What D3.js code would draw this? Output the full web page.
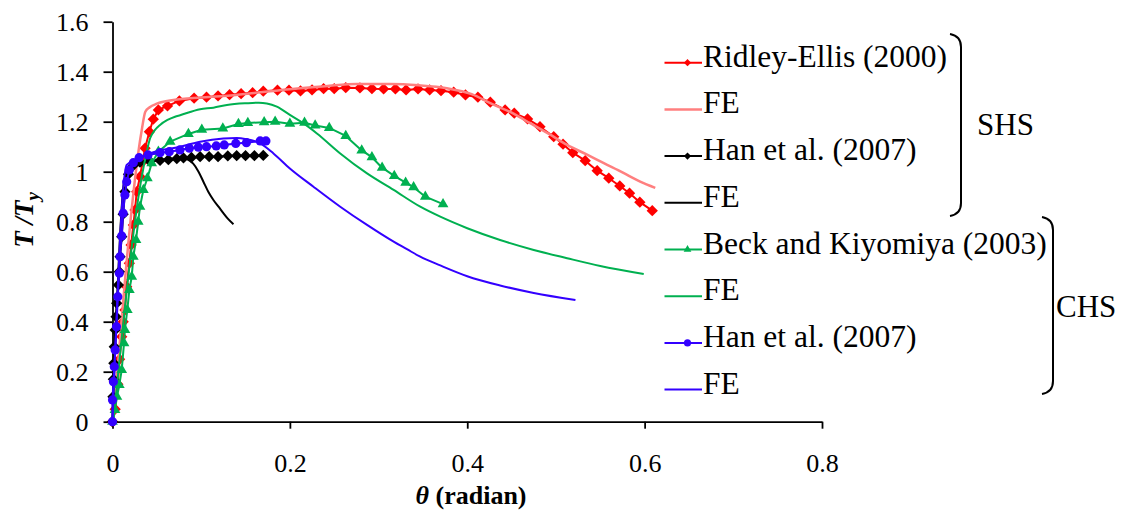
<!DOCTYPE html>
<html>
<head>
<meta charset="utf-8">
<script src="https://cdn.jsdelivr.net/npm/d3@7"></script>
</head>
<body style="margin:0; background:#fff">
<div id="chart"></div>
<script>
// Ridley-Ellis (2000), SHS test
const ridleyX = [0, 0.003, 0.006, 0.008, 0.0104, 0.012, 0.014, 0.016, 0.019, 0.021, 0.0235, 0.0254, 0.0273, 0.031, 0.034, 0.0367, 0.0416, 0.046, 0.0517, 0.062, 0.0754, 0.092, 0.106, 0.119, 0.132, 0.145, 0.158, 0.170, 0.186, 0.199, 0.212, 0.225, 0.238, 0.250, 0.263, 0.279, 0.2925, 0.3057, 0.319, 0.331, 0.3445, 0.3576, 0.3704, 0.3847, 0.398, 0.412, 0.426, 0.4427, 0.453, 0.468, 0.482, 0.4975, 0.508, 0.519, 0.533, 0.5465, 0.5596, 0.572, 0.583, 0.5946, 0.6086];
const ridleyY = [0, 0.05, 0.15, 0.25, 0.34, 0.40, 0.447, 0.54, 0.634, 0.707, 0.787, 0.847, 0.92, 0.98, 1.04, 1.094, 1.16, 1.21, 1.247, 1.263, 1.283, 1.294, 1.298, 1.303, 1.308, 1.312, 1.316, 1.322, 1.326, 1.326, 1.323, 1.327, 1.332, 1.332, 1.336, 1.335, 1.332, 1.331, 1.331, 1.327, 1.331, 1.327, 1.324, 1.318, 1.307, 1.298, 1.278, 1.247, 1.234, 1.211, 1.18, 1.14, 1.11, 1.076, 1.044, 1.004, 0.974, 0.943, 0.914, 0.878, 0.844];

// FE, SHS (Ridley-Ellis)
const feRidleyX = [0.001, 0.033, 0.037, 0.042, 0.05, 0.0686, 0.1, 0.125, 0.16, 0.2, 0.24, 0.2756, 0.313, 0.345, 0.377, 0.405, 0.426, 0.45, 0.471, 0.4926, 0.5126, 0.534, 0.554, 0.575, 0.595, 0.612];
const feRidleyY = [0, 1.167, 1.24, 1.258, 1.272, 1.287, 1.297, 1.303, 1.315, 1.33, 1.342, 1.351, 1.351, 1.346, 1.334, 1.31, 1.274, 1.236, 1.194, 1.15, 1.107, 1.07, 1.034, 0.997, 0.96, 0.935];

// Han et al. (2007), SHS test
const hanSX = [0, 0.0005, 0.001, 0.0015, 0.002, 0.003, 0.004, 0.0047, 0.0066, 0.0077, 0.0085, 0.0104, 0.012, 0.014, 0.018, 0.0235, 0.031, 0.042, 0.0536, 0.063, 0.0725, 0.08, 0.089, 0.0988, 0.109, 0.119, 0.13, 0.14, 0.15, 0.16, 0.17];
const hanSY = [0, 0.1, 0.17, 0.234, 0.3, 0.367, 0.42, 0.474, 0.547, 0.6, 0.66, 0.74, 0.83, 0.92, 0.99, 1.025, 1.038, 1.042, 1.045, 1.048, 1.052, 1.055, 1.057, 1.06, 1.06, 1.06, 1.063, 1.064, 1.064, 1.064, 1.065];

// FE, SHS (Han)
const feHanSX = [0, 0.013, 0.018, 0.025, 0.04, 0.06, 0.075, 0.082, 0.087, 0.091, 0.097, 0.1025, 0.108, 0.1138, 0.12, 0.125, 0.13, 0.1364];
const feHanSY = [0, 0.96, 1.01, 1.03, 1.042, 1.05, 1.054, 1.052, 1.044, 1.032, 1.0, 0.96, 0.92, 0.887, 0.858, 0.834, 0.812, 0.79];

// Beck and Kiyomiya (2003), CHS test
const beckX = [0, 0.0028, 0.005, 0.0077, 0.0104, 0.013, 0.014, 0.0167, 0.019, 0.0217, 0.0235, 0.0265, 0.029, 0.031, 0.0348, 0.0393, 0.0442, 0.0517, 0.065, 0.0856, 0.1007, 0.1244, 0.142, 0.1526, 0.171, 0.1834, 0.2, 0.2165, 0.2285, 0.2444, 0.263, 0.281, 0.2925, 0.304, 0.3177, 0.3305, 0.3395, 0.3527, 0.3727];
const beckY = [0, 0.047, 0.1, 0.147, 0.207, 0.314, 0.367, 0.447, 0.527, 0.58, 0.66, 0.727, 0.8, 0.86, 0.927, 0.974, 1.034, 1.08, 1.12, 1.151, 1.168, 1.173, 1.191, 1.195, 1.198, 1.2, 1.192, 1.196, 1.185, 1.175, 1.143, 1.085, 1.058, 1.016, 0.983, 0.956, 0.938, 0.9, 0.87];

// FE, CHS (Beck)
const feBeckX = [0.001, 0.033, 0.038, 0.0424, 0.0475, 0.0536, 0.062, 0.0705, 0.0762, 0.0988, 0.1138, 0.129, 0.1515, 0.165, 0.174, 0.1853, 0.2, 0.215, 0.2305, 0.2568, 0.287, 0.317, 0.347, 0.3696, 0.4, 0.437, 0.475, 0.5126, 0.55, 0.599];
const feBeckY = [0, 0.98, 1.07, 1.134, 1.165, 1.187, 1.207, 1.22, 1.226, 1.25, 1.256, 1.267, 1.274, 1.276, 1.273, 1.26, 1.227, 1.194, 1.153, 1.073, 0.993, 0.927, 0.86, 0.82, 0.774, 0.727, 0.687, 0.654, 0.623, 0.591];

// Han et al. (2007), CHS test
const hanCX = [0, 0, 0.001, 0.002, 0.003, 0.0045, 0.006, 0.0077, 0.0085, 0.0104, 0.012, 0.014, 0.016, 0.019, 0.0235, 0.030, 0.040, 0.0536, 0.064, 0.076, 0.0867, 0.0968, 0.106, 0.117, 0.126, 0.139, 0.151, 0.1665, 0.173];
const hanCY = [0, 0.087, 0.16, 0.22, 0.287, 0.38, 0.5, 0.594, 0.66, 0.743, 0.834, 0.907, 0.96, 1.007, 1.036, 1.056, 1.067, 1.076, 1.08, 1.087, 1.094, 1.098, 1.1, 1.103, 1.107, 1.113, 1.116, 1.123, 1.123];

// FE, CHS (Han)
const feHanCX = [0, 0.016, 0.025, 0.042, 0.076, 0.0988, 0.125, 0.14, 0.151, 0.1665, 0.1815, 0.2, 0.2266, 0.2568, 0.287, 0.317, 0.332, 0.347, 0.3696, 0.4, 0.437, 0.475, 0.522];
const feHanCY = [0, 1.027, 1.045, 1.073, 1.1, 1.12, 1.133, 1.135, 1.13, 1.113, 1.073, 1.013, 0.94, 0.86, 0.787, 0.72, 0.69, 0.66, 0.625, 0.582, 0.545, 0.515, 0.487];

// Legend / axis text
const legendLabels = ["Ridley-Ellis (2000)", "FE", "Han et al. (2007)", "FE", "Beck and Kiyomiya (2003)", "FE", "Han et al. (2007)", "FE"];
const groupLabels = ["SHS", "CHS"];
const xTicks = [0, 0.2, 0.4, 0.6, 0.8];
const yTicks = [0, 0.2, 0.4, 0.6, 0.8, 1, 1.2, 1.4, 1.6];

const serif = "'Liberation Serif', 'Times New Roman', serif";

const zip = (xs, ys) => xs.map((x, i) => ({ x: x, y: ys[i] }));

// series in drawing order
const series = [
    { name: legendLabels[0], data: zip(ridleyX, ridleyY), color: "#ff0000", width: 2, marker: "diamond" },
    { name: legendLabels[1], data: zip(feRidleyX, feRidleyY), color: "#ff7f7f", width: 2.5, marker: null },
    { name: legendLabels[2], data: zip(hanSX, hanSY), color: "#000000", width: 2, marker: "diamond" },
    { name: legendLabels[3], data: zip(feHanSX, feHanSY), color: "#000000", width: 2, marker: null },
    { name: legendLabels[4], data: zip(beckX, beckY), color: "#00b050", width: 2, marker: "triangle" },
    { name: legendLabels[5], data: zip(feBeckX, feBeckY), color: "#00b050", width: 2, marker: null },
    { name: legendLabels[6], data: zip(hanCX, hanCY), color: "#3300ff", width: 2, marker: "circle" },
    { name: legendLabels[7], data: zip(feHanCX, feHanCY), color: "#3300ff", width: 2, marker: null },
];

const W = 1130, H = 516;

const svg = d3.select("#chart")
    .append("svg")
    .attr("width", W)
    .attr("height", H)
    .style("display", "block")
    .style("font-family", serif);

svg.append("rect").attr("width", W).attr("height", H).attr("fill", "#fff");

// scales
const x = d3.scaleLinear().domain([0, 0.8]).range([112.5, 822]);
const y = d3.scaleLinear().domain([0, 1.6]).range([421.7, 21.7]);

// axes
const xAxis = d3.axisBottom(x)
    .tickValues(xTicks)
    .tickFormat((d) => String(d))
    .tickSize(7)
    .tickSizeOuter(0)
    .tickPadding(25);

const yAxis = d3.axisLeft(y)
    .tickValues(yTicks)
    .tickFormat((d) => String(d))
    .tickSize(9)
    .tickSizeOuter(0)
    .tickPadding(15);

const gx = svg.append("g")
    .attr("transform", "translate(0," + y(0) + ")")
    .call(xAxis);

const gy = svg.append("g")
    .attr("transform", "translate(" + x(0) + ",0)")
    .call(yAxis);

[gx, gy].forEach((g) => {
    g.attr("font-family", null).attr("font-size", 26);
    g.selectAll("path, line").attr("stroke", "#000").attr("stroke-width", 1.8);
    g.selectAll("text")
        .attr("fill", "#000")
        .style("font-family", serif)
        .attr("font-size", 26);
});

// markers
const symbolFor = (kind, big) => {
    if (kind === "diamond") return d3.symbol(d3.symbolSquare, big ? 64 : 26)();
    if (kind === "circle") return d3.symbol(d3.symbolCircle, big ? 66 : 40)();
    return d3.symbol(d3.symbolTriangle, big ? 50 : 26)();
};
const markerTransform = (kind, px, py) =>
    "translate(" + px + "," + py + ")" + (kind === "diamond" ? " rotate(45)" : "");

const line = d3.line().x((d) => x(d.x)).y((d) => y(d.y));
const smooth = d3.line().x((d) => x(d.x)).y((d) => y(d.y)).curve(d3.curveMonotoneX);

const plot = svg.append("g");

series.forEach((s) => {
    plot.append("path")
        .datum(s.data)
        .attr("fill", "none")
        .attr("stroke", s.color)
        .attr("stroke-width", s.width)
        .attr("stroke-linejoin", "round")
        .attr("d", s.marker ? line : smooth);

    if (s.marker) {
        plot.append("g")
            .selectAll("path")
            .data(s.data)
            .enter()
            .append("path")
            .attr("d", symbolFor(s.marker, true))
            .attr("transform", (d) => markerTransform(s.marker, x(d.x), y(d.y)))
            .attr("fill", s.color);
    }
});

// axis titles
const yTitle = svg.append("text")
    .attr("transform", "translate(33,220) rotate(-90)")
    .attr("text-anchor", "middle")
    .attr("font-size", 27)
    .attr("font-weight", "bold")
    .attr("font-style", "italic")
    .style("font-family", serif);
yTitle.append("tspan").text("T /T");
yTitle.append("tspan").attr("font-size", 19).attr("dy", 6).text("y");

const xTitle = svg.append("text")
    .attr("x", 471)
    .attr("y", 504)
    .attr("text-anchor", "middle")
    .attr("font-size", 26)
    .attr("font-weight", "bold")
    .style("font-family", serif);
xTitle.append("tspan").attr("font-style", "italic").text("\u03b8");
xTitle.append("tspan").text(" (radian)");

// legend
const legend = svg.append("g");
series.forEach((s, i) => {
    const ly = 62.7 + i * 46.7;
    legend.append("line")
        .attr("x1", 664.5)
        .attr("x2", 702)
        .attr("y1", ly)
        .attr("y2", ly)
        .attr("stroke", s.color)
        .attr("stroke-width", s.width);
    if (s.marker) {
        legend.append("path")
            .attr("d", symbolFor(s.marker, false))
            .attr("transform", markerTransform(s.marker, 687.5, ly))
            .attr("fill", s.color);
    }
    legend.append("text")
        .attr("x", 703)
        .attr("y", ly + 4)
        .attr("fill", "#000")
        .attr("font-size", 31.5)
        .style("font-family", serif)
        .text(s.name);
});

// group brackets
legend.append("path")
    .attr("d", "M950,34 Q961,36 961,47 L961,203 Q961,214 950,216")
    .attr("fill", "none")
    .attr("stroke", "#000")
    .attr("stroke-width", 2);
legend.append("path")
    .attr("d", "M1042,217 Q1053,219 1053,230 L1053,381 Q1053,392 1042,394")
    .attr("fill", "none")
    .attr("stroke", "#000")
    .attr("stroke-width", 2);

legend.append("text")
    .attr("x", 977)
    .attr("y", 135)
    .attr("font-size", 31)
    .style("font-family", serif)
    .text(groupLabels[0]);
legend.append("text")
    .attr("x", 1056)
    .attr("y", 317)
    .attr("font-size", 31)
    .style("font-family", serif)
    .text(groupLabels[1]);
</script>
</body>
</html>
